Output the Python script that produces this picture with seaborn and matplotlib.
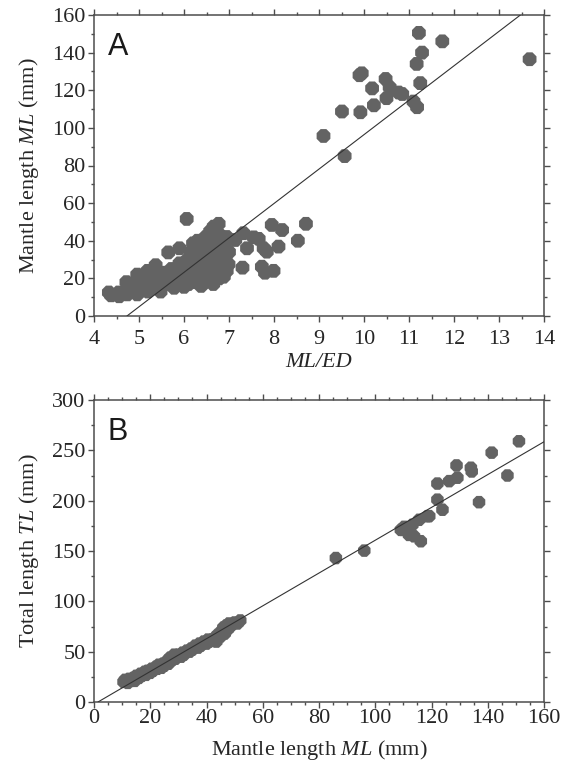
import numpy as np
import pandas as pd
import matplotlib
matplotlib.use('Agg')
import matplotlib.pyplot as plt
import seaborn as sns
from matplotlib.ticker import MultipleLocator

# Panel A: mantle length vs ML/ED
ml_ed_a = [
    4.33, 4.38, 4.56, 4.55, 4.72, 4.74, 4.80, 4.90, 4.96, 4.96, 5.04, 5.05,
    5.12, 5.19, 5.20, 5.26, 5.30, 5.37, 5.40, 5.48, 5.48, 5.52, 5.60, 5.65,
    5.70, 5.72, 5.78, 5.85, 5.90, 5.90, 5.95, 6.00, 6.00, 6.05, 6.06, 6.08,
    6.10, 6.12, 6.15, 6.20, 6.20, 6.22, 6.25, 6.30, 6.30, 6.32, 6.35, 6.38,
    6.40, 6.42, 6.45, 6.48, 6.50, 6.50, 6.52, 6.55, 6.58, 6.60, 6.60, 6.62,
    6.65, 6.66, 6.68, 6.70, 6.72, 6.75, 6.77, 6.78, 6.80, 6.82, 6.85, 6.88,
    6.90, 6.92, 6.95, 6.99, 7.00, 6.95,
    # middle group
    7.95, 8.18, 8.71, 8.53, 7.66, 7.32, 7.14, 7.40, 7.77, 7.84, 8.10, 7.55,
    7.30, 7.73, 7.80, 7.99, 6.88,
    # upper group
    11.22, 11.74, 11.29, 11.17, 13.68, 9.90, 9.95, 10.48, 10.18, 10.57,
    10.77, 10.85, 10.50, 11.25, 10.22, 11.10, 11.18, 9.51, 9.92, 9.10, 9.57,
]
ml_a = [
    12.5, 11.0, 10.5, 12.5, 18.0, 11.5, 14.0, 16.0, 22.0, 11.5, 15.5, 19.0,
    20.0, 24.0, 13.0, 16.5, 21.0, 27.0, 18.0, 19.0, 13.0, 23.0, 17.0, 33.8,
    20.0, 25.0, 15.0, 22.0, 36.0, 28.0, 18.0, 15.5, 24.0, 20.0, 51.6, 30.0,
    17.0, 26.0, 34.0, 38.6, 22.0, 18.0, 29.0, 40.0, 25.0, 20.0, 33.0, 16.0,
    28.0, 36.0, 23.0, 42.0, 31.0, 19.0, 26.0, 37.0, 45.0, 22.0, 29.0, 33.0,
    17.0, 47.5, 40.0, 25.0, 30.0, 36.0, 49.0, 20.0, 43.0, 27.0, 33.0, 21.0,
    38.0, 30.0, 24.0, 27.5, 34.0, 42.0,
    48.4, 45.7, 49.0, 40.0, 41.0, 44.0, 40.4, 36.0, 36.0, 34.2, 36.9, 41.8,
    25.7, 26.2, 23.0, 24.0, 21.0,
    150.5, 146.0, 140.0, 134.0, 136.5, 128.0, 129.0, 126.0, 121.0, 121.6,
    118.8, 118.0, 115.8, 123.8, 112.0, 114.0, 111.0, 108.7, 108.3, 95.7, 85.0,
]
fit_a = (18.3, -86.6)   # slope, intercept

# Panel B: total length vs mantle length
ml_b = [
    10.5, 11.0, 12.0, 12.5, 13.0, 14.0, 14.5, 15.0, 16.0, 16.5, 17.0, 18.0,
    18.5, 19.0, 20.0, 20.5, 21.0, 22.0, 22.5, 23.0, 24.0, 24.5, 25.0, 26.0,
    26.5, 27.0, 28.0, 28.5, 29.0, 30.0, 31.0, 31.5, 32.0, 33.0, 34.0, 34.5,
    35.0, 36.0, 37.0, 37.5, 38.0, 39.0, 40.0, 40.5, 41.0, 42.0, 43.0, 43.5,
    44.0, 45.0, 45.5, 46.0, 46.5, 47.0, 47.5, 48.0, 48.5, 49.0, 50.0, 51.0,
    52.0,
    86.0, 96.1, 109.1, 109.7, 110.3, 112.0, 113.2, 113.8, 115.6, 116.2,
    118.6, 119.2, 122.1, 122.1, 123.9, 126.3, 128.9, 129.2, 134.0, 134.3,
    136.9, 141.4, 147.0, 151.1,
]
tl_b = [
    20, 22, 19, 23, 21, 24, 21, 26, 24, 28, 26, 30,
    27, 31, 29, 33, 31, 35, 33, 37, 34, 38, 36, 41,
    38, 44, 42, 47, 43, 47, 45, 49, 47, 51, 50, 53,
    52, 56, 54, 58, 56, 60, 58, 62, 60, 62, 64, 60,
    67, 65, 71, 74, 68, 76, 72, 78, 75, 77, 79, 78,
    81,
    143.0, 150.4, 171.0, 171.0, 174.0, 166.0, 176.0, 164.6, 181.0, 159.7,
    184.6, 184.6, 217.0, 201.0, 191.0, 219.4, 235.0, 222.8, 232.7, 229.0,
    198.5, 247.7, 225.0, 259.0,
]
fit_b = (1.63, -2.3)

df_a = pd.DataFrame({'ratio': ml_ed_a, 'ml': ml_a})
df_b = pd.DataFrame({'ml': ml_b, 'tl': tl_b})

sns.set_style('ticks')
plt.rcParams['font.family'] = ['Liberation Serif', 'DejaVu Serif']
plt.rcParams['mathtext.fontset'] = 'custom'
plt.rcParams['mathtext.rm'] = 'Liberation Serif'
plt.rcParams['mathtext.it'] = 'Liberation Serif:italic'

edge = '#4d4d4d'
dot = '#636363'

fig = plt.figure(figsize=(5.64, 7.67), dpi=100)
ax_a = fig.add_axes([94 / 564, 1 - 316 / 767, 450 / 564, 301 / 767])
ax_b = fig.add_axes([94 / 564, 1 - 702 / 767, 450 / 564, 302 / 767])

sns.scatterplot(data=df_a, x='ratio', y='ml', ax=ax_a, marker='8', s=115,
                color=dot, edgecolor='none', linewidth=0, zorder=2)
ax_a.axline((0, fit_a[1]), slope=fit_a[0], color='#333333', lw=0.8, zorder=3)

sns.scatterplot(data=df_b, x='ml', y='tl', ax=ax_b, marker='8', s=95,
                color=dot, edgecolor='none', linewidth=0, zorder=2)
ax_b.axline((0, fit_b[1]), slope=fit_b[0], color='#333333', lw=0.8, zorder=3)

ax_a.set_xlim(4, 14)
ax_a.set_ylim(0, 160)
ax_a.xaxis.set_major_locator(MultipleLocator(1))
ax_a.xaxis.set_minor_locator(MultipleLocator(0.5))
ax_a.yaxis.set_major_locator(MultipleLocator(20))
ax_a.yaxis.set_minor_locator(MultipleLocator(10))
ax_a.set_xlabel('ML/ED', style='italic', fontsize=16, labelpad=3)
ax_a.set_ylabel(r'Mantle length $\mathit{ML}$ (mm)', fontsize=16, labelpad=8)

ax_b.set_xlim(0, 160)
ax_b.set_ylim(0, 300)
ax_b.xaxis.set_major_locator(MultipleLocator(20))
ax_b.xaxis.set_minor_locator(MultipleLocator(5))
ax_b.yaxis.set_major_locator(MultipleLocator(50))
ax_b.yaxis.set_minor_locator(MultipleLocator(25))
ax_b.set_xlabel(r'Mantle length $\mathit{ML}$ (mm)', fontsize=16, labelpad=7)
ax_b.set_ylabel(r'Total length $\mathit{TL}$ (mm)', fontsize=16, labelpad=8)

for ax, tag in [(ax_a, 'A'), (ax_b, 'B')]:
    for sp in ax.spines.values():
        sp.set_visible(True)
        sp.set_color(edge)
        sp.set_linewidth(1.1)
    ax.tick_params(which='both', direction='out', top=True, right=True,
                   color=edge, width=1, labelsize=16, pad=2)
    ax.tick_params(which='major', length=4)
    ax.tick_params(which='minor', length=2.5)
    ax.text(0.031, 0.945, tag, transform=ax.transAxes, fontsize=22,
            family='Liberation Sans', va='top', ha='left', color='#1a1a1a')

ax_a.tick_params(axis='x', which='both', pad=6)
ax_b.tick_params(axis='x', which='both', pad=1)

fig.savefig('out.png', dpi=100)
